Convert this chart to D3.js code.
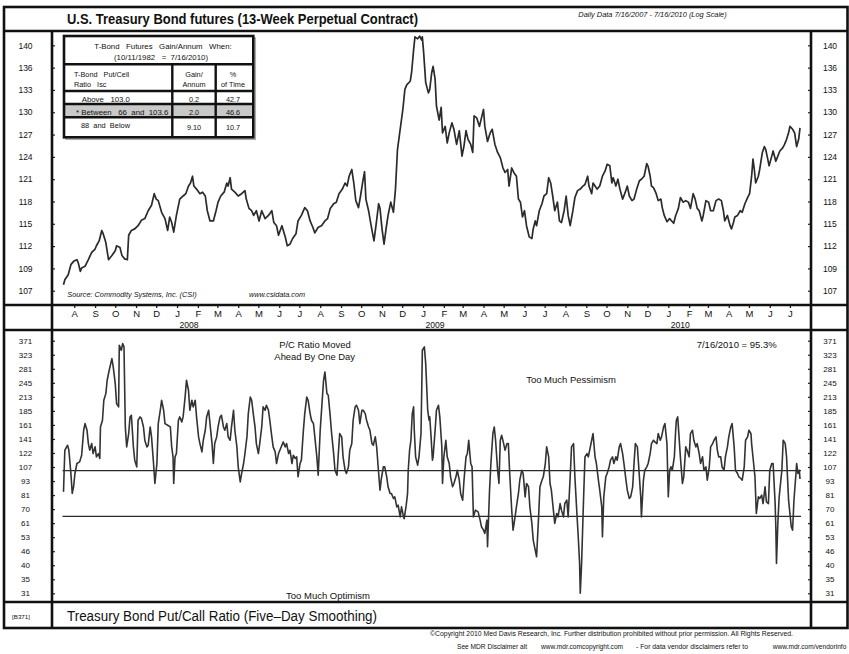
<!DOCTYPE html>
<html><head><meta charset="utf-8">
<script src="https://cdn.jsdelivr.net/npm/d3@7"></script>
<style>
body{margin:0;background:#fff}
svg{display:block}
text{font-family:"Liberation Sans",Arial,Helvetica,sans-serif;fill:#111;white-space:pre}
</style></head>
<body><svg id="c" width="849" height="654"></svg>
<script>
// ---------------- DATA ----------------
const chartTitle = "U.S. Treasury Bond futures (13-Week Perpetual Contract)";
const chartSubtitle = "Daily Data 7/16/2007 - 7/16/2010 (Log Scale)";
const bottomTitle = "Treasury Bond Put/Call Ratio (Five\u2013Day Smoothing)";
const startDay = "2007-07-16", endDay = "2010-07-16";

// T-Bond futures: [days since 7/16/2007, price]
const priceSeries = [[0,107.7],[2,108.3],[7,108.9],[11,110.1],[15,110.5],[20,110.7],[22,110.3],[25,109.3],[27,109.7],[32,109.9],[37,110.7],[42,111.6],[47,112.0],[49,112.4],[53,113.0],[57,114.3],[59,113.9],[63,112.8],[67,110.7],[72,111.2],[77,111.8],[79,112.4],[84,112.2],[87,111.2],[91,110.8],[95,110.7],[97,113.7],[101,114.3],[106,114.5],[111,114.9],[116,115.6],[121,115.8],[126,116.8],[131,117.5],[135,119.0],[138,118.3],[141,118.1],[146,116.6],[151,115.8],[155,114.3],[158,116.0],[161,115.3],[164,114.1],[168,116.2],[173,118.3],[178,118.7],[182,119.0],[186,120.0],[189,120.4],[192,121.3],[194,120.0],[198,119.6],[203,119.0],[207,119.2],[211,118.7],[214,116.8],[218,115.5],[223,115.5],[227,116.8],[230,117.9],[234,118.7],[239,119.2],[243,120.4],[245,120.0],[248,121.1],[250,119.6],[255,119.2],[260,118.7],[265,119.0],[270,119.4],[272,118.3],[276,117.1],[280,116.8],[283,116.2],[287,116.8],[291,115.5],[295,116.8],[300,115.8],[305,116.2],[310,116.8],[313,115.3],[317,114.9],[320,113.7],[325,114.9],[330,113.5],[333,112.4],[337,112.6],[341,113.3],[346,113.9],[349,115.5],[354,116.2],[359,117.2],[363,116.8],[367,115.5],[371,114.7],[374,114.0],[379,114.7],[384,114.9],[389,115.5],[393,115.8],[397,117.1],[402,117.7],[406,117.9],[410,119.0],[415,119.6],[419,120.4],[422,120.0],[425,121.3],[429,122.2],[432,120.4],[435,118.1],[439,117.2],[442,118.7],[445,120.4],[448,121.9],[450,118.3],[454,116.8],[457,115.3],[460,113.9],[462,113.0],[465,114.9],[469,117.7],[471,117.1],[474,114.5],[477,112.6],[480,114.5],[483,116.2],[487,117.9],[491,116.6],[494,119.6],[497,124.9],[501,127.7],[505,130.5],[508,133.4],[511,134.1],[516,134.6],[518,135.9],[521,139.3],[523,141.3],[527,141.0],[530,141.4],[533,140.8],[534,141.3],[536,138.8],[539,134.4],[543,132.9],[545,133.4],[548,135.9],[550,136.8],[553,134.9],[555,131.0],[559,129.0],[562,130.8],[564,127.2],[568,128.1],[571,125.8],[574,127.2],[578,128.6],[581,127.7],[585,125.6],[589,127.5],[593,124.0],[596,125.4],[599,127.5],[602,126.3],[606,125.6],[609,124.5],[611,129.6],[615,129.3],[619,128.1],[622,129.3],[625,130.5],[627,128.1],[631,126.0],[635,127.2],[638,127.7],[642,125.6],[646,124.5],[650,123.8],[654,122.4],[657,121.8],[661,122.2],[663,120.0],[667,122.4],[670,121.8],[674,121.3],[677,118.3],[680,117.9],[683,116.0],[686,116.8],[689,114.9],[693,113.5],[697,113.3],[699,114.5],[702,115.5],[704,114.9],[708,116.8],[712,117.7],[715,118.7],[719,119.0],[722,121.1],[725,120.4],[728,118.7],[731,116.8],[735,117.9],[738,115.5],[741,115.3],[745,116.8],[748,118.7],[751,116.2],[754,114.9],[758,116.8],[761,118.5],[765,119.4],[769,119.6],[773,120.0],[776,120.2],[780,121.3],[782,120.0],[786,119.0],[788,120.4],[791,120.0],[794,119.6],[798,120.0],[802,121.3],[806,122.0],[809,122.9],[813,122.7],[816,120.4],[818,121.1],[822,120.0],[825,120.9],[828,119.6],[832,118.3],[836,119.2],[839,120.0],[842,118.7],[846,118.1],[849,118.3],[853,119.6],[857,120.7],[860,120.9],[864,121.3],[868,123.0],[870,122.6],[873,121.3],[875,120.0],[878,119.8],[882,119.0],[885,118.1],[889,118.3],[891,117.2],[894,116.2],[898,115.4],[902,115.8],[905,115.5],[908,115.2],[911,116.2],[915,117.1],[918,118.5],[922,117.9],[926,118.1],[930,117.9],[933,117.1],[937,119.0],[940,118.3],[943,117.1],[946,116.8],[950,115.5],[952,116.2],[956,118.1],[960,117.9],[963,116.8],[967,116.8],[971,118.1],[975,118.3],[979,118.1],[982,116.8],[984,115.5],[988,116.2],[992,114.9],[994,114.5],[997,115.3],[999,116.0],[1003,116.2],[1007,116.8],[1010,116.6],[1014,117.7],[1018,118.5],[1021,119.0],[1024,121.3],[1026,123.6],[1028,122.2],[1030,120.4],[1034,121.3],[1036,122.2],[1040,124.5],[1043,125.3],[1045,124.9],[1048,123.6],[1050,122.7],[1054,124.0],[1056,124.7],[1060,123.3],[1063,124.0],[1066,124.7],[1070,125.1],[1073,125.6],[1076,126.3],[1079,127.2],[1081,128.1],[1085,127.7],[1088,127.2],[1091,125.3],[1094,126.3],[1096,127.9]];

// Put/Call ratio (5-day smoothing): [days since 7/16/2007, ratio %]
const pcSeries = [[0,84.0],[1,103.9],[2,126.5],[6,132.8],[8,126.5],[11,100.6],[13,82.7],[15,88.3],[17,100.6],[20,111.0],[24,112.8],[27,120.4],[30,153.9],[32,164.3],[35,153.9],[37,135.0],[39,126.5],[42,135.0],[44,122.4],[47,130.7],[49,118.5],[52,122.4],[54,116.6],[55,159.0],[58,169.8],[60,206.7],[63,220.6],[65,251.5],[68,277.5],[72,311.3],[74,286.7],[77,243.4],[79,200.0],[82,193.6],[83,354.9],[86,337.8],[88,360.7],[90,349.1],[92,159.0],[94,130.7],[97,149.0],[99,175.5],[101,178.4],[104,130.7],[106,114.7],[109,107.4],[111,169.8],[114,175.5],[116,172.6],[119,159.0],[121,139.5],[124,130.7],[126,132.8],[129,159.0],[131,144.2],[134,111.0],[136,91.2],[139,111.0],[141,164.3],[144,187.3],[146,206.7],[149,187.3],[151,164.3],[155,161.6],[159,159.0],[161,130.7],[163,118.5],[164,91.2],[166,118.5],[168,122.4],[171,169.8],[173,175.5],[176,167.0],[178,175.5],[181,213.5],[183,251.5],[186,228.0],[188,187.3],[191,206.7],[193,193.6],[196,206.7],[198,175.5],[201,144.2],[203,135.0],[206,124.4],[208,139.5],[211,153.9],[213,175.5],[216,187.3],[218,164.3],[221,135.0],[223,111.0],[225,135.0],[228,144.2],[230,159.0],[233,175.5],[235,178.4],[238,159.0],[240,153.9],[243,164.3],[245,144.2],[248,139.5],[250,159.0],[253,187.3],[255,153.9],[258,130.7],[260,107.4],[263,92.7],[265,100.6],[268,111.0],[270,122.4],[273,144.2],[275,181.3],[278,213.5],[280,206.7],[283,175.5],[285,159.0],[287,135.0],[290,122.4],[292,135.0],[295,159.0],[297,193.6],[300,187.3],[302,196.8],[305,187.3],[307,169.8],[310,144.2],[312,130.7],[315,124.4],[317,111.0],[320,122.4],[322,126.5],[325,132.8],[327,137.2],[330,130.7],[332,135.0],[335,122.4],[337,126.5],[340,111.0],[342,120.4],[345,116.6],[347,118.5],[349,97.4],[352,111.0],[354,114.7],[357,153.9],[359,181.3],[362,213.5],[364,206.7],[367,181.3],[369,169.8],[372,164.3],[374,144.2],[377,118.5],[379,99.0],[382,153.9],[384,187.3],[387,251.5],[389,273.0],[392,220.6],[394,217.0],[397,175.5],[399,149.0],[402,122.4],[404,103.9],[407,99.0],[409,122.4],[411,149.0],[414,144.2],[416,118.5],[419,103.9],[421,100.6],[424,107.4],[426,126.5],[429,135.0],[431,169.8],[434,193.6],[436,196.8],[439,187.3],[441,164.3],[444,187.3],[446,187.3],[449,181.3],[451,169.8],[454,159.0],[456,153.9],[459,135.0],[461,132.8],[464,144.2],[466,130.7],[469,100.6],[471,85.4],[473,95.8],[476,107.4],[478,107.4],[481,97.4],[483,88.3],[486,82.7],[488,82.7],[491,78.7],[493,80.0],[496,72.5],[498,73.7],[501,65.7],[503,72.5],[506,65.7],[507,64.6],[510,73.7],[512,82.7],[513,103.9],[515,126.5],[517,139.5],[519,181.3],[521,193.6],[522,153.9],[524,118.5],[527,109.2],[529,118.5],[532,149.0],[533,220.6],[534,337.8],[537,349.1],[539,296.3],[542,187.3],[544,169.8],[545,175.5],[547,144.2],[549,114.7],[550,118.5],[553,153.9],[555,187.3],[558,196.8],[560,175.5],[563,130.7],[564,91.2],[566,118.5],[569,139.5],[571,118.5],[574,111.0],[576,97.4],[579,88.3],[581,91.2],[584,97.4],[586,103.9],[589,94.2],[591,82.7],[594,77.4],[596,94.2],[599,118.5],[601,122.4],[603,139.5],[606,111.0],[608,107.4],[610,65.7],[613,70.2],[617,69.0],[620,63.6],[622,59.6],[625,57.7],[627,55.8],[630,63.6],[631,49.0],[634,85.4],[636,111.0],[639,149.0],[641,159.0],[643,139.5],[646,103.9],[648,91.2],[650,139.5],[652,146.6],[655,135.0],[657,126.5],[660,135.0],[662,135.0],[664,100.6],[667,70.2],[669,57.7],[672,65.7],[674,72.5],[677,82.7],[679,94.2],[682,103.9],[684,100.6],[687,80.0],[689,91.2],[692,88.3],[694,72.5],[697,61.6],[699,52.3],[702,47.4],[704,44.4],[707,65.7],[709,88.3],[712,94.2],[714,97.4],[717,111.0],[719,130.7],[722,118.5],[724,91.2],[726,85.4],[729,70.2],[731,61.6],[734,67.9],[736,65.7],[739,74.9],[741,70.2],[744,65.7],[746,74.9],[749,77.4],[751,65.7],[754,97.4],[756,130.7],[759,135.0],[761,97.4],[764,67.9],[766,54.0],[768,41.6],[769,31.0],[771,41.6],[774,80.0],[776,118.5],[779,122.4],[781,118.5],[784,130.7],[786,139.5],[788,149.0],[791,118.5],[793,111.0],[796,94.2],[798,85.4],[801,72.5],[802,54.0],[804,80.0],[807,97.4],[809,100.6],[812,107.4],[814,114.7],[817,118.5],[819,111.0],[822,118.5],[824,114.7],[827,130.7],[829,135.0],[832,122.4],[834,111.0],[837,94.2],[839,85.4],[842,78.7],[844,80.0],[847,88.3],[849,111.0],[851,135.0],[854,130.7],[856,107.4],[859,80.0],[860,65.7],[863,94.2],[865,103.9],[868,107.4],[870,111.0],[873,122.4],[875,135.0],[878,139.5],[880,137.2],[883,135.0],[885,149.0],[888,139.5],[890,144.2],[893,159.0],[895,164.3],[898,135.0],[900,80.0],[902,103.9],[904,107.4],[906,103.9],[909,118.5],[911,153.9],[912,169.8],[914,175.5],[916,144.2],[918,118.5],[921,91.2],[923,97.4],[926,130.7],[928,126.5],[931,118.5],[933,149.0],[936,153.9],[938,139.5],[941,130.7],[943,135.0],[946,122.4],[948,111.0],[951,118.5],[953,103.9],[956,107.4],[958,94.2],[961,107.4],[963,130.7],[966,135.0],[968,139.5],[971,144.2],[973,126.5],[975,118.5],[978,118.5],[980,107.4],[983,103.9],[985,118.5],[988,130.7],[990,144.2],[993,159.0],[995,164.3],[998,130.7],[1000,103.9],[1003,100.6],[1005,97.4],[1008,95.8],[1010,94.2],[1013,107.4],[1015,139.5],[1018,144.2],[1020,153.9],[1023,149.0],[1024,135.0],[1027,111.0],[1029,97.4],[1031,67.9],[1034,80.0],[1036,78.7],[1039,81.3],[1041,74.9],[1044,88.3],[1046,76.1],[1049,74.9],[1051,103.9],[1054,111.0],[1056,111.0],[1059,74.9],[1060,59.6],[1061,41.6],[1063,61.6],[1065,80.0],[1069,103.9],[1071,139.5],[1074,135.0],[1076,118.5],[1079,77.4],[1081,67.9],[1083,59.6],[1085,57.7],[1087,77.4],[1090,100.6],[1091,111.0],[1093,100.6],[1095,103.9],[1096,95.3]];

const priceTickLabels = ["107","109","112","115","118","121","124","127","130","133","136","140"];
const pcTickLabels = ["31","35","40","46","53","61","70","81","93","107","122","141","161","185","213","245","281","323","371"];
const monthLabels = ["A","S","O","N","D","J","F","M","A","M","J","J","A","S","O","N","D","J","F","M","A","M","J","J","A","S","O","N","D","J","F","M","A","M","J","J"];
const yearLabels = ["2008","2009","2010"];
const pcLevels = [103.6, 66];

const tableTitle = ["T-Bond   Futures   Gain/Annum   When:", "(10/11/1982   =  7/16/2010)"];
const tableHead = [["T-Bond   Put/Cell","Ratio   Isc"],["Gain/","Annum"],["%","of Time"]];
const tableRowLabels = ["Above   103.0", "* Between   66  and  103.6", "88  and  Below"];
const tableGain = ["0.2", "2.0", "9.10"];
const tableTime = ["42.7", "46.6", "10.7"];

// ---------------- DRAW ----------------
const svg = d3.select("#c");
const parse = d3.timeParse("%Y-%m-%d");
const t0 = parse(startDay), t1 = parse(endDay);
const dayDate = d => d3.timeDay.offset(t0, d);

const x = d3.scaleTime().domain([t0, t1]).range([63.5, 800]);
const yTop = d3.scaleLog().domain([105.34, 142.06]).range([305, 32]);
const yBot = d3.scaleLog().domain([28.46, 408.2]).range([602, 331]);

const geo = (lo, hi, n) => d3.range(n).map(i => lo * Math.pow(hi / lo, i / (n - 1)));
const topTicks = geo(+priceTickLabels[0], +priceTickLabels[priceTickLabels.length-1], priceTickLabels.length);
const botTicks = geo(+pcTickLabels[0], +pcTickLabels[pcTickLabels.length-1], pcTickLabels.length);

function yAxes(scale, ticks, labels, fs) {
  const fmt = (d, i) => labels[i];
  const gl = svg.append("g").attr("transform", "translate(52,0)")
    .call(d3.axisLeft(scale).tickValues(ticks).tickFormat(fmt).tickSizeInner(-3).tickSizeOuter(0));
  gl.select(".domain").remove();
  gl.selectAll("line").attr("stroke", "#222").attr("stroke-width", 1.2);
  gl.selectAll("text").attr("x", -26.5).attr("text-anchor", "middle").attr("font-size", fs).attr("font-family", null).style("fill","#111");
  const gr = svg.append("g").attr("transform", "translate(811,0)")
    .call(d3.axisRight(scale).tickValues(ticks).tickFormat(fmt).tickSizeInner(-3).tickSizeOuter(0));
  gr.select(".domain").remove();
  gr.selectAll("line").attr("stroke", "#222").attr("stroke-width", 1.2);
  gr.selectAll("text").attr("x", 19).attr("text-anchor", "middle").attr("font-size", fs).attr("font-family", null).style("fill","#111");
}
yAxes(yTop, topTicks, priceTickLabels, 8.5);
yAxes(yBot, botTicks, pcTickLabels, 8);

// month axis
const months = d3.timeMonth.range(d3.timeMonth.ceil(t0), t1);
const gm = svg.append("g").attr("transform", "translate(0,305)")
  .call(d3.axisBottom(x).tickValues(months).tickFormat((d, i) => monthLabels[i]).tickSizeInner(3).tickSizeOuter(0).tickPadding(2.6));
gm.select(".domain").remove();
gm.selectAll("line").attr("stroke", "#222").attr("stroke-width", 1.3);
gm.selectAll("text").attr("font-size", 9.5).attr("font-family", null).style("fill","#111");
const jans = months.filter(d => d.getMonth() === 0);
svg.append("g").selectAll("text").data(jans).join("text")
  .attr("x", d => x(d) + 12).attr("y", 327.8).attr("text-anchor", "middle")
  .attr("font-size", 8.6).text((d, i) => yearLabels[i]);

// reference levels
svg.append("g").selectAll("line").data(pcLevels).join("line")
  .attr("x1", x(t0) - 1).attr("x2", x(t1) + 1)
  .attr("y1", d => yBot(d)).attr("y2", d => yBot(d))
  .attr("stroke", "#2a2a2a").attr("stroke-width", 1.3);

// series lines
svg.append("path").datum(priceSeries)
  .attr("d", d3.line().x(d => x(dayDate(d[0]))).y(d => yTop(d[1])))
  .attr("fill", "none").attr("stroke", "#2b2b2b").attr("stroke-width", 1.7).attr("stroke-linejoin", "round");
svg.append("path").datum(pcSeries)
  .attr("d", d3.line().x(d => x(dayDate(d[0]))).y(d => yBot(d[1])))
  .attr("fill", "none").attr("stroke", "#333").attr("stroke-width", 1.6).attr("stroke-linejoin", "round");

// table
const tb = svg.append("g");
tb.append("rect").attr("x", 66).attr("y", 38).attr("width", 189.3).attr("height", 101.3).attr("fill", "none").attr("stroke", "#aaa").attr("stroke-width", 1.5);
tb.append("rect").attr("x", 64).attr("y", 36).attr("width", 189.3).attr("height", 101.3).attr("fill", "#fff");
tb.append("rect").attr("x", 64).attr("y", 104).attr("width", 189.3).attr("height", 13.3).attr("fill", "#c9c9c9");
const tl = (x1, y1, x2, y2) => tb.append("line").attr("x1", x1).attr("y1", y1).attr("x2", x2).attr("y2", y2).attr("stroke", "#111").attr("stroke-width", 2.4);
tl(64, 64.3, 253.3, 64.3); tl(64, 91, 253.3, 91); tl(64, 104, 253.3, 104); tl(64, 117.3, 253.3, 117.3);
tl(172.3, 64.3, 172.3, 137.3); tl(215.7, 64.3, 215.7, 137.3);
tb.append("rect").attr("x", 64).attr("y", 36).attr("width", 189.3).attr("height", 101.3).attr("fill", "none").attr("stroke", "#111").attr("stroke-width", 2.6);
const tt = (s, xx, yy, anchor, len) => {
  const e = tb.append("text").attr("x", xx).attr("y", yy).attr("text-anchor", anchor).attr("font-size", 7.3).text(s);
  if (len) e.attr("textLength", len).attr("lengthAdjust", "spacingAndGlyphs");
  return e;
};
tt(tableTitle[0], 94.3, 49.3, "start", 137.4);
tt(tableTitle[1], 114, 60, "start", 94);
tt(tableHead[0][0], 74, 76.5, "start");
tt(tableHead[0][1], 74, 87.3, "start");
tt(tableHead[1][0], 194, 76.5, "middle");
tt(tableHead[1][1], 194, 87.3, "middle");
tt(tableHead[2][0], 233, 76.5, "middle");
tt(tableHead[2][1], 233, 87.3, "middle");
const rowY = [101.6, 114.8, 127.6], rowX = [81.7, 76, 81], rowLen = [48.3, 92.3, 49];
tableRowLabels.forEach((s, i) => tt(s, rowX[i], rowY[i], "start", rowLen[i]));
tableGain.forEach((s, i) => tt(s, 194, rowY[i] + (i === 2 ? 2.5 : 0), "middle"));
tableTime.forEach((s, i) => tt(s, 233, rowY[i] + (i === 2 ? 2.5 : 0), "middle"));

// texts
const txt = (s, xx, yy, opts) => {
  const e = svg.append("text").attr("x", xx).attr("y", yy).attr("font-size", opts.fs).text(s);
  if (opts.anchor) e.attr("text-anchor", opts.anchor);
  if (opts.bold) e.attr("font-weight", "bold");
  if (opts.italic) e.attr("font-style", "italic");
  if (opts.len) e.attr("textLength", opts.len).attr("lengthAdjust", "spacingAndGlyphs");
  return e;
};
txt(chartTitle, 67, 23.8, {fs: 14.5, bold: true, len: 351});
txt(chartSubtitle, 578.3, 17.3, {fs: 7.5, italic: true, len: 148.4});
txt("Source: Commodity Systems, Inc. (CSI)", 67.3, 296.8, {fs: 8, italic: true, len: 129.4});
txt("www.csidata.com", 249, 296.8, {fs: 8, italic: true, len: 56});
txt("P/C Ratio Moved", 315, 347.5, {fs: 9.3, anchor: "middle", len: 71.7});
txt("Ahead By One Day", 314.7, 359.5, {fs: 9.3, anchor: "middle", len: 80.7});
txt("Too Much Optimism", 328, 598.5, {fs: 9.3, anchor: "middle", len: 84});
txt("Too Much Pessimism", 571, 382.8, {fs: 9.3, anchor: "middle", len: 89.7});
txt("7/16/2010 = 95.3%", 736.7, 347.5, {fs: 9.3, anchor: "middle", len: 80});
txt(bottomTitle, 67, 621, {fs: 14, len: 310});
txt("[B371]", 12, 619, {fs: 6, len: 18});
txt("\u00A9Copyright 2010 Med Davis Research, Inc. Further distribution prohibited without prior permission. All Rights Reserved.", 430, 636, {fs: 7, len: 363});
txt("See MDR Disclaimer alt", 457, 649, {fs: 6.6});
txt("www.mdr.comcopyright.com", 541, 649, {fs: 6.6});
txt("- For data vendor disclaimers refer to", 636, 649, {fs: 6.6, len: 112});
txt("www.mdr.com/vendorinfo", 772.7, 649, {fs: 6.6});

// frame
const fr = svg.append("g").attr("stroke", "#111").attr("stroke-width", 2.6).attr("fill", "none");
fr.append("rect").attr("x", 4).attr("y", 7).attr("width", 843.5).attr("height", 621);
[31, 305, 330, 602].forEach(yy => fr.append("line").attr("x1", 4).attr("x2", 847.5).attr("y1", yy).attr("y2", yy));
[52, 811].forEach(xx => fr.append("line").attr("x1", xx).attr("x2", xx).attr("y1", 31).attr("y2", 628));
</script>
</body></html>
